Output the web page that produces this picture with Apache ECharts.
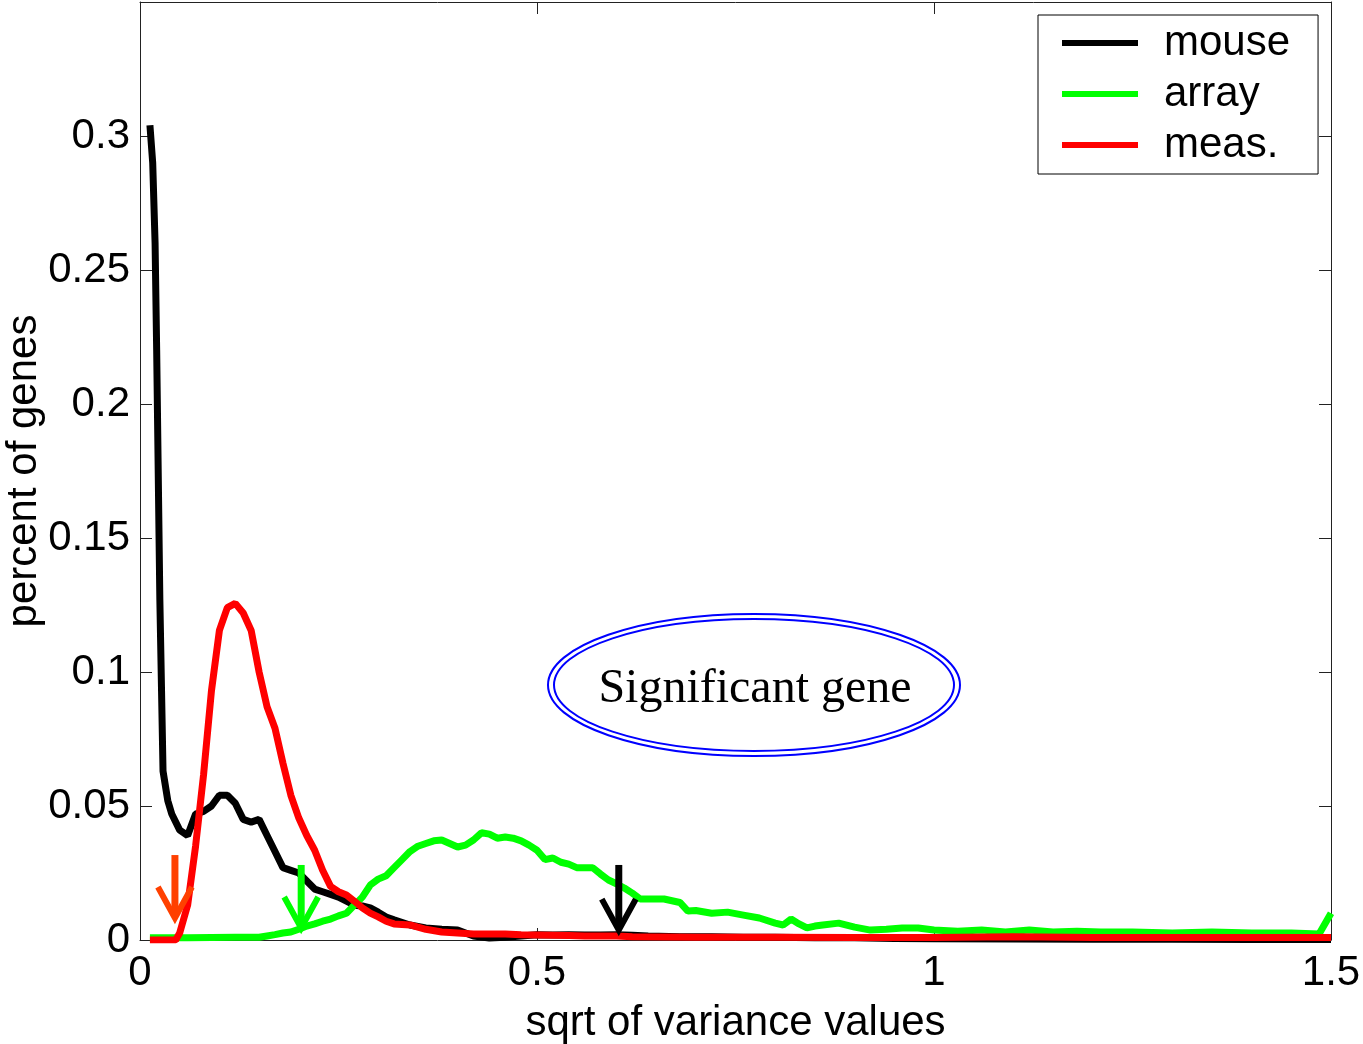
<!DOCTYPE html>
<html>
<head>
<meta charset="utf-8">
<script src="https://cdn.jsdelivr.net/npm/echarts@6/dist/echarts.min.js"></script>
<style>
  html, body { margin: 0; padding: 0; background: #fff; }
  #main { width: 1363px; height: 1044px; }
</style>
</head>
<body>
<div id="main"></div>
<script>
// histogram curves, [sqrt of variance, percent of genes]
var mouse = [
  [0.0125, 0.304], [0.016, 0.29], [0.019, 0.26], [0.021, 0.22], [0.025, 0.127],
  [0.029, 0.063], [0.035, 0.052], [0.04, 0.047], [0.05, 0.041], [0.06, 0.039],
  [0.07, 0.047], [0.08, 0.048], [0.09, 0.050], [0.10, 0.054], [0.11, 0.054],
  [0.12, 0.051], [0.13, 0.045], [0.14, 0.044], [0.15, 0.045], [0.16, 0.039],
  [0.17, 0.033], [0.18, 0.027], [0.19, 0.026], [0.20, 0.025], [0.21, 0.022],
  [0.22, 0.019], [0.23, 0.018], [0.24, 0.017], [0.25, 0.016], [0.26, 0.0145],
  [0.27, 0.013], [0.28, 0.0127], [0.29, 0.012], [0.30, 0.0104], [0.31, 0.0086],
  [0.32, 0.0075], [0.34, 0.0056], [0.36, 0.0045], [0.38, 0.004], [0.40, 0.0037],
  [0.42, 0.0015], [0.44, 0.0007], [0.46, 0.001], [0.48, 0.0015], [0.50, 0.002],
  [0.52, 0.0019], [0.54, 0.002], [0.56, 0.0019], [0.58, 0.0019], [0.60, 0.002],
  [0.62, 0.0018], [0.64, 0.0015], [0.68, 0.0012], [0.72, 0.0012], [0.76, 0.001],
  [0.80, 0.001], [0.85, 0.0008], [0.90, 0.0008], [0.95, 0.0006], [1.0, 0.0005],
  [1.1, 0.0004], [1.2, 0.0003], [1.3, 0.0003], [1.4, 0.0002], [1.5, 0.0002]
];
var array = [
  [0.0125, 0.0008], [0.03, 0.0008], [0.06, 0.0008], [0.09, 0.0009], [0.12, 0.001],
  [0.15, 0.001], [0.16, 0.0015], [0.17, 0.002], [0.18, 0.0026], [0.19, 0.003],
  [0.20, 0.004], [0.21, 0.0052], [0.22, 0.006], [0.23, 0.007], [0.24, 0.0078],
  [0.25, 0.009], [0.26, 0.010], [0.27, 0.013], [0.28, 0.016], [0.29, 0.0205],
  [0.30, 0.0227], [0.31, 0.024], [0.32, 0.027], [0.33, 0.030], [0.34, 0.033],
  [0.35, 0.035], [0.36, 0.036], [0.37, 0.037], [0.38, 0.0373], [0.39, 0.036],
  [0.40, 0.0347], [0.41, 0.0354], [0.42, 0.0373], [0.43, 0.040], [0.44, 0.0395],
  [0.45, 0.038], [0.46, 0.0384], [0.47, 0.038], [0.48, 0.037], [0.49, 0.0354],
  [0.50, 0.0335], [0.51, 0.030], [0.52, 0.0306], [0.53, 0.029], [0.54, 0.0283],
  [0.55, 0.027], [0.56, 0.027], [0.57, 0.027], [0.58, 0.0246], [0.59, 0.0224],
  [0.60, 0.021], [0.61, 0.0194], [0.62, 0.0175], [0.63, 0.0153], [0.64, 0.0153],
  [0.66, 0.0153], [0.68, 0.014], [0.69, 0.0108], [0.70, 0.011], [0.72, 0.010],
  [0.74, 0.0104], [0.76, 0.0093], [0.78, 0.0082], [0.80, 0.0063], [0.81, 0.0056],
  [0.82, 0.0078], [0.83, 0.006], [0.84, 0.0045], [0.85, 0.0052], [0.86, 0.0056],
  [0.88, 0.0063], [0.90, 0.0048], [0.92, 0.0037], [0.94, 0.004], [0.96, 0.0045],
  [0.98, 0.0045], [1.00, 0.0037], [1.03, 0.0033], [1.06, 0.0037], [1.09, 0.003],
  [1.12, 0.0037], [1.15, 0.003], [1.18, 0.0033], [1.21, 0.003], [1.25, 0.003],
  [1.30, 0.0026], [1.35, 0.003], [1.40, 0.0026], [1.45, 0.0026], [1.485, 0.0022],
  [1.5, 0.010]
];
var meas = [
  [0.0125, 0], [0.03, 0], [0.045, 0], [0.05, 0.0026], [0.06, 0.013],
  [0.07, 0.035], [0.08, 0.0615], [0.09, 0.093], [0.10, 0.1155], [0.11, 0.124],
  [0.12, 0.1256], [0.13, 0.122], [0.14, 0.1155], [0.15, 0.100], [0.16, 0.087],
  [0.17, 0.079], [0.18, 0.066], [0.19, 0.054], [0.20, 0.0455], [0.21, 0.039],
  [0.22, 0.0335], [0.23, 0.026], [0.24, 0.020], [0.25, 0.018], [0.26, 0.0168],
  [0.27, 0.0145], [0.28, 0.012], [0.29, 0.010], [0.30, 0.0086], [0.31, 0.007],
  [0.32, 0.006], [0.34, 0.0056], [0.36, 0.004], [0.38, 0.003], [0.40, 0.0026],
  [0.42, 0.0022], [0.46, 0.0022], [0.48, 0.002], [0.50, 0.0019], [0.52, 0.0018],
  [0.54, 0.0017], [0.56, 0.0015], [0.60, 0.0015], [0.62, 0.0012], [0.70, 0.001],
  [0.80, 0.001], [0.90, 0.0009], [1.0, 0.0009], [1.1, 0.0012], [1.2, 0.0009],
  [1.3, 0.0009], [1.4, 0.0009], [1.5, 0.0009]
];

// threshold arrows: x, top of shaft, tip
var arrowX = [0.044, 0.203, 0.603];
var arrowTop = [0.0317, 0.028, 0.028];
var arrowTip = [0.0082, 0.0045, 0.0037];
var arrowColors = ['#ff4000', '#00ff00', '#000000'];

var seriesNames = ['mouse', 'array', 'meas.'];
var seriesColors = ['#000000', '#00ff00', '#ff0000'];

var xTicks = { min: 0, max: 1.5, interval: 0.5 };
var yTicks = { min: 0, max: 0.35, interval: 0.05 };

var myChart = echarts.init(document.getElementById('main'));

var font = 'Liberation Sans';
var frame = {
    axisLine: { show: true, onZero: false, lineStyle: { color: '#222', width: 1 } },
    axisTick: { show: true, inside: true, length: 12, lineStyle: { color: '#222', width: 1 } },
    splitLine: { show: false },
};

var arrowData = arrowX.map(function (x, i) {
    return [x, arrowTop[i], arrowTip[i], i];
});

var option = {
    backgroundColor: '#fff',
    animation: false,
    grid: {
        left: 140,
        top: 2,
        right: 32,
        bottom: 104,
        outerBoundsMode: 'none',
        containLabel: false,
    },
    legend: {
        data: seriesNames,
        orient: 'vertical',
        left: 1038,
        top: 15,
        padding: [5, 28, 6, 24],
        itemGap: 5,
        itemWidth: 76,
        itemHeight: 6,
        icon: 'rect',
        selectedMode: false,
        borderColor: '#000',
        borderWidth: 1,
        backgroundColor: '#fff',
        textStyle: {
            fontFamily: font,
            fontSize: 42,
            color: '#000',
            lineHeight: 46,
            padding: [0, 0, 0, 21],
        },
    },
    xAxis: [
        Object.assign({
            type: 'value',
            min: xTicks.min,
            max: xTicks.max,
            interval: xTicks.interval,
            position: 'bottom',
            name: 'sqrt of variance values',
            nameLocation: 'middle',
            nameGap: 62,
            nameMoveOverlap: false,
            nameTextStyle: { fontFamily: font, fontSize: 42, color: '#000' },
            axisLabel: {
                fontFamily: font,
                fontSize: 42,
                color: '#000',
                margin: 12,
            },
        }, frame),
        Object.assign({
            type: 'value',
            min: xTicks.min,
            max: xTicks.max,
            interval: xTicks.interval,
            position: 'top',
            axisLabel: { show: false },
        }, frame),
    ],
    yAxis: [
        Object.assign({
            type: 'value',
            min: yTicks.min,
            max: yTicks.max,
            interval: yTicks.interval,
            position: 'left',
            name: 'percent of genes',
            nameLocation: 'middle',
            nameGap: 95,
            nameMoveOverlap: false,
            nameTextStyle: { fontFamily: font, fontSize: 42, color: '#000' },
            axisLabel: {
                fontFamily: font,
                fontSize: 42,
                color: '#000',
                margin: 10,
                showMaxLabel: false,
                formatter: function (v) {
                    if (v > 0.31) return '';
                    return String(Math.round(v * 100) / 100);
                },
            },
        }, frame),
        Object.assign({
            type: 'value',
            min: yTicks.min,
            max: yTicks.max,
            interval: yTicks.interval,
            position: 'right',
            axisLabel: { show: false },
        }, frame),
    ],
    series: [
        {
            name: seriesNames[0],
            type: 'line',
            data: mouse,
            showSymbol: false,
            color: seriesColors[0],
            lineStyle: { width: 7, color: seriesColors[0] },
            z: 2,
        },
        {
            name: seriesNames[1],
            type: 'line',
            data: array,
            showSymbol: false,
            color: seriesColors[1],
            lineStyle: { width: 7, color: seriesColors[1] },
            z: 3,
        },
        {
            name: seriesNames[2],
            type: 'line',
            data: meas,
            showSymbol: false,
            color: seriesColors[2],
            lineStyle: { width: 7, color: seriesColors[2] },
            z: 4,
        },
        {
            type: 'custom',
            data: arrowData,
            z: 5,
            silent: true,
            renderItem: function (params, api) {
                var top = api.coord([api.value(0), api.value(1)]);
                var tip = api.coord([api.value(0), api.value(2)]);
                var c = arrowColors[api.value(3)];
                return {
                    type: 'group',
                    children: [
                        {
                            type: 'line',
                            shape: { x1: top[0], y1: top[1], x2: tip[0], y2: tip[1] - 3 },
                            style: { stroke: c, lineWidth: 7 },
                        },
                        {
                            type: 'polyline',
                            shape: { points: [[tip[0] - 17, tip[1] - 31], [tip[0], tip[1]], [tip[0] + 17, tip[1] - 31]] },
                            style: { stroke: c, lineWidth: 6, fill: 'none', lineJoin: 'miter' },
                        },
                    ],
                };
            },
        },
    ],
    graphic: [
        {
            type: 'ellipse',
            shape: { cx: 754, cy: 685, rx: 206, ry: 71 },
            style: { fill: 'none', stroke: '#0000ff', lineWidth: 2 },
            z: 10,
        },
        {
            type: 'ellipse',
            shape: { cx: 754, cy: 685, rx: 200, ry: 66 },
            style: { fill: 'none', stroke: '#0000ff', lineWidth: 2 },
            z: 10,
        },
        {
            type: 'text',
            x: 755,
            y: 689,
            style: {
                text: 'Significant gene',
                font: '48px "Liberation Serif"',
                fill: '#000',
                textAlign: 'center',
                textVerticalAlign: 'middle',
            },
            z: 10,
        },
    ],
};

myChart.setOption(option);
</script>
</body>
</html>
